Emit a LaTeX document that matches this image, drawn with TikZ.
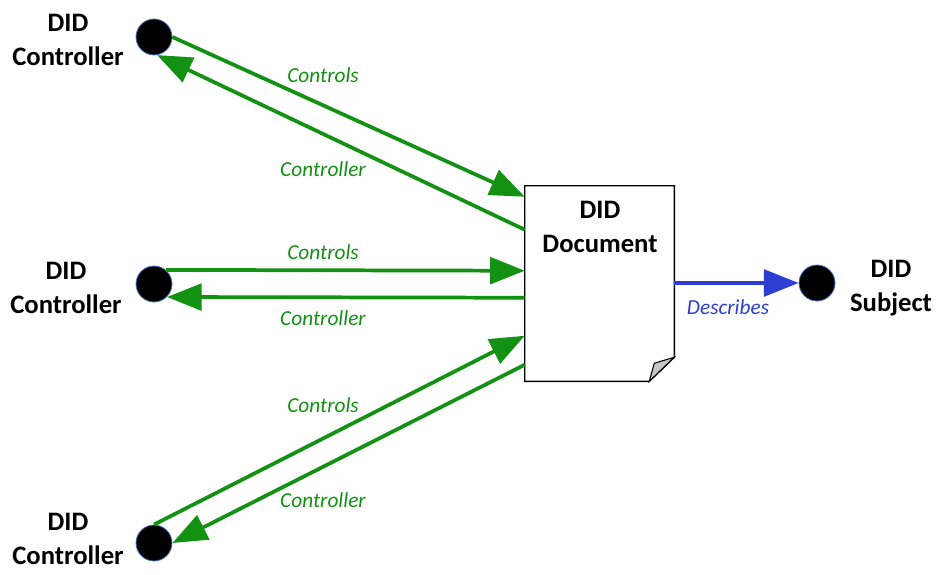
\documentclass[tikz,border=0pt]{standalone}
\usepackage{fontspec}
\setmainfont{Carlito}
\usetikzlibrary{arrows.meta,calc}
\definecolor{ctrlgreen}{RGB}{19,145,19}
\definecolor{descblue}{RGB}{45,62,210}
\definecolor{dotrim}{RGB}{68,114,196}
\tikzset{
  party/.style={circle,fill=black,draw=dotrim,line width=0.6pt,minimum size=27pt,inner sep=0pt},
  partylabel/.style={align=center,inner sep=0pt,font=\fontsize{20}{26}\selectfont\bfseries},
  rel/.style={line width=2.8pt,-{Triangle[length=26pt,width=20pt]}},
  ctrl/.style={rel,draw=ctrlgreen,fill=ctrlgreen},
  relname/.style={font=\fontsize{16}{19}\selectfont\itshape},
}
\begin{document}
\begin{tikzpicture}[x=0.75pt,y=-0.75pt]
  \useasboundingbox (0,0) rectangle (937,574);
  % controllers and subject
  \node[party] (ctrlA) at (154,37) {};
  \node[party] (ctrlB) at (154,284) {};
  \node[party] (ctrlC) at (154,543) {};
  \node[party] (subj) at (817,283) {};
  \node[partylabel] (ctrlAtxt) at (68,40) {DID\\Controller};
  \node[partylabel] (ctrlBtxt) at (66,288) {DID\\Controller};
  \node[partylabel] (ctrlCtxt) at (68,539) {DID\\Controller};
  \node[partylabel] (subjtxt) at (891,288) {DID\\Subject};
  % the document
  \node[minimum width=111.75pt,minimum height=146.25pt,inner sep=0pt] (doc) at (599.5,283.5) {};
  \draw[line width=1.1pt,fill=white] (doc.north west) -- (doc.north east) -- ($(doc.south east)+(0,-24)$)
    -- ($(doc.south east)+(-25,0)$) -- (doc.south west) -- cycle;
  \draw[line width=0.8pt,fill=black!22] ($(doc.south east)+(0,-24)$) -- ($(doc.south east)+(-20,-18)$)
    -- ($(doc.south east)+(-25,0)$) -- cycle;
  \node[partylabel] (doctxt) at (600,227) {DID\\Document};
  % points on the left side of the document
  \coordinate (inA) at ($(doc.north west)+(0,11)$);
  \coordinate (outA) at ($(doc.north west)+(0,44)$);
  \coordinate (inB) at ($(doc.north west)+(0,85)$);
  \coordinate (outB) at ($(doc.north west)+(0,112)$);
  \coordinate (inC) at ($(doc.north west)+(0,150)$);
  \coordinate (outC) at ($(doc.north west)+(0,179)$);
  % relations
  \draw[ctrl] (ctrlA.east) -- (inA);
  \draw[ctrl] (outA) -- (ctrlA.-80);
  \draw[ctrl] (ctrlB.50) -- (inB);
  \draw[ctrl] (outB) -- (ctrlB.-45);
  \draw[ctrl] (ctrlC.north) -- (inC);
  \draw[ctrl] (outC) -- (ctrlC.east);
  \draw[rel,draw=descblue,fill=descblue] (doc.east |- subj) -- (subj.west);
  \node[relname,text=ctrlgreen] (lA1) at (323,75) {Controls};
  \node[relname,text=ctrlgreen] (lA2) at (323,169) {Controller};
  \node[relname,text=ctrlgreen] (lB1) at (323,252) {Controls};
  \node[relname,text=ctrlgreen] (lB2) at (323,318) {Controller};
  \node[relname,text=ctrlgreen] (lC1) at (323,405) {Controls};
  \node[relname,text=ctrlgreen] (lC2) at (323,500) {Controller};
  \node[relname,text=descblue] (ldesc) at (728,307) {Describes};
\end{tikzpicture}
\end{document}
